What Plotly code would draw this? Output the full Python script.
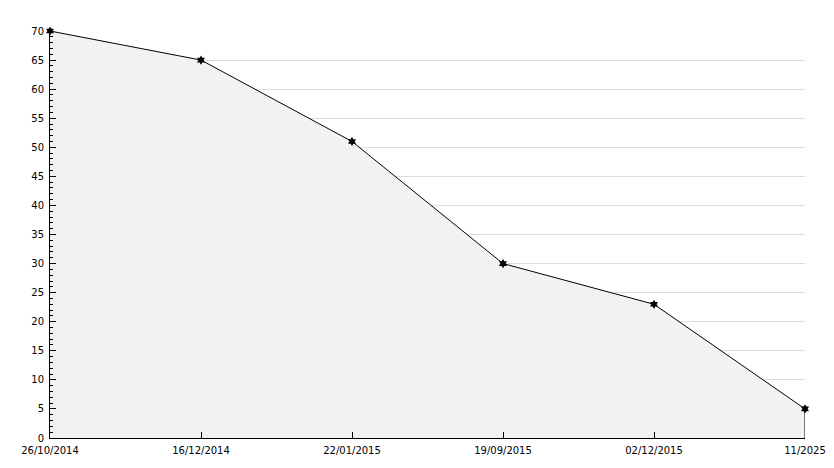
import plotly.graph_objects as go

dates = ["26/10/2014", "16/12/2014", "22/01/2015", "19/09/2015", "02/12/2015", "11/2025"]
values = [70, 65, 51, 30, 23, 5]
y_ticks = list(range(0, 75, 5))

fig = go.Figure()
fig.add_trace(go.Scatter(
    x=dates, y=values, mode="lines+markers",
    fill="tozeroy", fillcolor="#f2f2f2",
    line=dict(color="black", width=1),
    marker=dict(symbol="hexagram", size=7, color="black"),
    cliponaxis=False, hoverinfo="x+y",
))
fig.add_trace(go.Scatter(
    x=[dates[-1], dates[-1]], y=[0, values[-1]], mode="lines",
    line=dict(color="black", width=1), hoverinfo="skip", cliponaxis=False,
))

# page body has an 8px margin, so the margins compensate for it
fig.update_layout(
    width=834, height=468,
    margin=dict(l=42, r=37, t=23, b=38),
    paper_bgcolor="white", plot_bgcolor="white",
    showlegend=False,
    font=dict(family="DejaVu Sans", size=10, color="black"),
    xaxis=dict(
        type="category", range=[0, len(dates) - 1],
        showgrid=False, zeroline=False,
        showline=True, linecolor="black", linewidth=1,
        ticks="inside", ticklen=6, tickcolor="black",
        ticklabelstandoff=3,
        tickfont=dict(size=10), automargin=False,
    ),
    yaxis=dict(
        range=[0, 70], tickvals=y_ticks,
        showgrid=True, gridcolor="#dcdcdc", gridwidth=1,
        zeroline=False,
        showline=True, linecolor="black", linewidth=1,
        ticks="inside", ticklen=6, tickcolor="black",
        ticklabelstandoff=3,
        minor=dict(dtick=1, ticks="inside", ticklen=3, tickcolor="black", showgrid=False),
        tickfont=dict(size=10), automargin=False,
    ),
)

fig.write_html("out.html")
